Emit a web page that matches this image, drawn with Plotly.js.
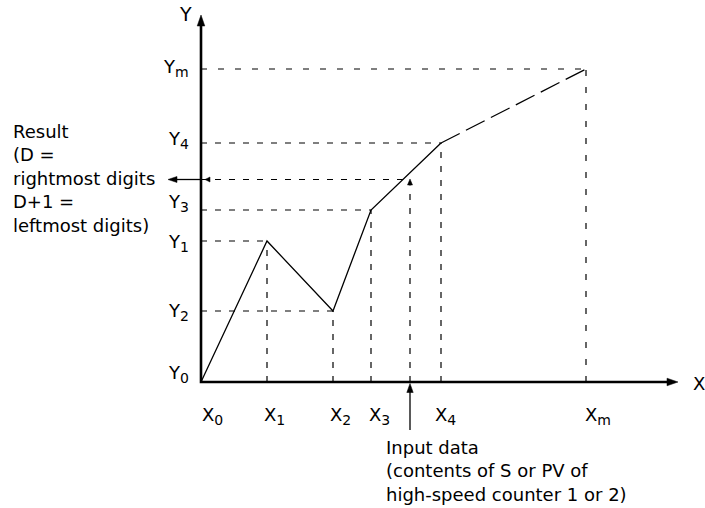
<!DOCTYPE html>
<html>
<head>
<meta charset="utf-8">
<script src="https://cdn.plot.ly/plotly-3.0.1.min.js"></script>
<style>
  html, body { margin: 0; padding: 0; background: #fff; }
  #chart { width: 705px; height: 508px; }
</style>
</head>
<body>
<div id="chart"></div>
<script>
// ---- data (schematic units) ----
const pointNames = ['0', '1', '2', '3', '4', 'm'];   // subscripts of X / Y labels
const xVals = [0, 66, 132, 170, 240, 385];
const yVals = [0, 141, 71, 172, 239, 313];
const inputX = [209];
const inputY = [202.5];
const resultText = ['Result', '(D =', 'rightmost digits', 'D+1 =', 'leftmost digits)'];
const inputText = ['Input data', '(contents of S or PV of', 'high-speed counter 1 or 2)'];
const axisNames = ['X', 'Y'];

// ---- layout helpers (positions/styles) ----
const FONT = 'DejaVu Sans, Liberation Sans, Arial, sans-serif';
const FS = 18;
const yLabelNudge = [8, -2, -1, 7.5, 3, 1.5];
const xLabelNudge = [-1, -5.5, -5.5, -4.5, -8.5, -3.5];
const yTop = 367, xEnd = 477;
const last = xVals.length - 1;
const lbl = (a, s) => a + '<sub><span style="font-size:14px">' + s + '</span></sub>';

const traces = [];
// guide lines (short dashes)
let gx = [], gy = [];
for (let i = 1; i < last; i++) {
  gx.push(0, xVals[i], null, xVals[i], xVals[i], null);
  gy.push(yVals[i], yVals[i], null, 0, yVals[i], null);
}
gx.push(0, inputX[0], null, inputX[0], inputX[0], null);
gy.push(inputY[0], inputY[0], null, 0, inputY[0] - 6, null);
traces.push({x: gx, y: gy, mode: 'lines', line: {color: '#000', width: 1.2, dash: '6px,8px'}, hoverinfo: 'skip'});
// guide lines for m (wider dash gap)
traces.push({x: [0, xVals[last], null, xVals[last], xVals[last]],
             y: [yVals[last], yVals[last], null, 0, yVals[last]],
             mode: 'lines', line: {color: '#000', width: 1.2, dash: '6px,11px'}, hoverinfo: 'skip'});
// polyline solid
traces.push({x: xVals.slice(0, last), y: yVals.slice(0, last), mode: 'lines',
             line: {color: '#000', width: 1.3}, hoverinfo: 'skip'});
// long-dash extension to m
traces.push({x: xVals.slice(last - 1), y: yVals.slice(last - 1), mode: 'lines',
             line: {color: '#000', width: 1.3, dash: '21px,7px'}, hoverinfo: 'skip'});
// axes
traces.push({x: [0, 0, xEnd - 8], y: [yTop - 8, 0, 0], mode: 'lines',
             line: {color: '#000', width: 2.6}, hoverinfo: 'skip'});
// input arrow stem (solid, below axis)
traces.push({x: [inputX[0], inputX[0]], y: [-48, -8], mode: 'lines',
             line: {color: '#000', width: 1.3}, hoverinfo: 'skip'});
// result arrow stem
traces.push({x: [0, -26], y: [inputY[0], inputY[0]], mode: 'lines',
             line: {color: '#000', width: 1.3}, hoverinfo: 'skip'});

function tri(tx, ty, dir, len, hw) {
  let p;
  if (dir === 'up') p = [[tx, ty], [tx - hw, ty - len], [tx + hw, ty - len]];
  else if (dir === 'right') p = [[tx, ty], [tx - len, ty + hw], [tx - len, ty - hw]];
  else p = [[tx, ty], [tx + len, ty + hw], [tx + len, ty - hw]];
  return {type: 'path', xref: 'x', yref: 'y',
          path: 'M' + p.map(q => q[0] + ',' + q[1]).join('L') + 'Z',
          fillcolor: '#000', line: {color: '#000', width: 0.5}};
}
const shapes = [
  tri(0, yTop, 'up', 11, 3.8),
  tri(xEnd, 0, 'right', 11, 3.8),
  tri(inputX[0], -1.5, 'up', 9, 3.2),
  tri(inputX[0], inputY[0] + 0.5, 'up', 6, 2.5),
  tri(4, inputY[0], 'left', 5, 2.5),
  tri(-33, inputY[0], 'left', 9, 3)
];

const ann = [];
function txt(text, x, y, size, extra) {
  ann.push(Object.assign({showarrow: false, xref: 'x', yref: 'y', text: text, x: x, y: y,
    xanchor: 'left', yanchor: 'middle', font: {family: FONT, size: size, color: '#000'}}, extra || {}));
}
for (let i = 0; i <= last; i++) {
  txt(lbl(axisNames[1], pointNames[i]), -10, yVals[i] + yLabelNudge[i], FS, {xanchor: 'right'});
  txt(lbl(axisNames[0], pointNames[i]), xVals[i] + xLabelNudge[i], -34, FS);
}
txt(axisNames[1], -16, 368, 19, {xanchor: 'center'});
txt(axisNames[0], 490, -1, FS);
txt(resultText.join('<br>'), -190, 204, FS, {align: 'left'});
txt(inputText.join('<br>'), 183, -89, FS, {align: 'left'});

const layout = {
  width: 705, height: 508,
  margin: {l: 0, r: 0, t: 0, b: 0},
  paper_bgcolor: '#fff', plot_bgcolor: '#fff',
  showlegend: false,
  xaxis: {range: [-201, 504], visible: false, fixedrange: true},
  yaxis: {range: [-126, 382], visible: false, fixedrange: true},
  shapes: shapes,
  annotations: ann
};
Plotly.newPlot('chart', traces, layout, {displayModeBar: false, staticPlot: true});
</script>
</body>
</html>
